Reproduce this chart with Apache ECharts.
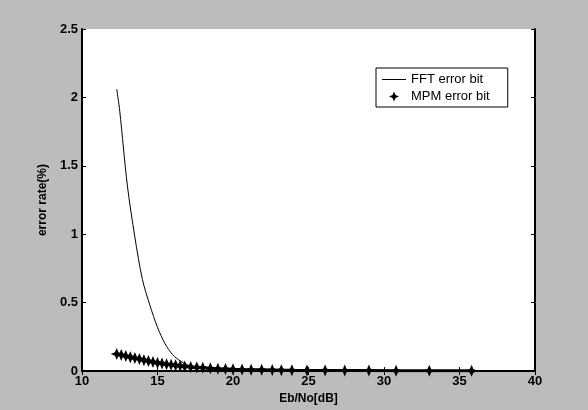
<!DOCTYPE html>
<html>
<head>
<meta charset="utf-8">
<script src="https://cdn.jsdelivr.net/npm/echarts@6/dist/echarts.min.js"></script>
<style>
  html, body { margin: 0; padding: 0; background: #bcbcbc; }
  #main { width: 588px; height: 410px; }
</style>
</head>
<body>
<div id="main"></div>
<script>
// FFT curve (Eb/No in dB, error rate in %)
const fftX = [12.3, 12.5, 13, 13.5, 14, 14.5, 15, 15.5, 16, 16.5, 17, 17.5, 18, 19, 20, 22, 24, 26, 28, 30, 32, 34, 36]
const fftY = [2.06, 1.9, 1.36, 0.98, 0.67, 0.48, 0.32, 0.2, 0.12, 0.075, 0.045, 0.03, 0.02, 0.01, 0.006, 0.004, 0.003, 0.002, 0.002, 0.001, 0.001, 0.001, 0.001]

// MPM markers
const mpmX = [12.3, 12.6, 12.9, 13.2, 13.5, 13.8, 14.1, 14.4, 14.7, 15.0, 15.3, 15.6, 15.9, 16.2, 16.5, 16.8,
    17.2, 17.6, 18.0, 18.5, 19.0, 19.5, 20.0, 20.6, 21.2, 21.9, 22.6, 23.2, 23.9, 24.9, 26.1, 27.4, 29.0, 30.8, 33.0, 35.8]
const mpmY = [0.125, 0.118, 0.11, 0.102, 0.095, 0.088, 0.08, 0.073, 0.066, 0.06, 0.055, 0.05, 0.046, 0.042, 0.038, 0.034,
    0.03, 0.027, 0.024, 0.02, 0.017, 0.015, 0.013, 0.011, 0.01, 0.009, 0.008, 0.007, 0.006, 0.005, 0.005, 0.004, 0.004, 0.003, 0.003, 0.002]

const star = 'path://M0,-10 L3,-3 L10,0 L3,3 L0,10 L-3,3 L-10,0 L-3,-3 Z'
// thin line for the legend, with tiny corner dots so the box stays 10 high
const lineIcon = 'path://M0,0 L0.01,0 L0.01,0.01 Z M0,4.6 L24,4.6 L24,5.4 L0,5.4 Z M0,10 L0.01,10 L0.01,9.99 Z'
const font = 'Liberation Sans'

const chart = echarts.init(document.getElementById('main'))

const tickFmt = v => String(v)
const labelStyle = { color: '#000', fontFamily: font, fontWeight: 'bold', fontSize: 13 }
const axisLine = { show: true, lineStyle: { color: '#000', width: 2 } }
const axisTick = { show: true, inside: true, length: 4, lineStyle: { color: '#000', width: 1 } }

let option = {
    backgroundColor: '#bcbcbc',
    animation: false,
    grid: {
        left: 82, right: 53, top: 29, bottom: 38,
        show: true, backgroundColor: '#fff', borderWidth: 0
    },
    legend: {
        left: 376, top: 68,
        orient: 'vertical',
        itemGap: 4,
        itemWidth: 24, itemHeight: 10,
        padding: [5, 18, 4, 6],
        backgroundColor: '#fff',
        borderColor: '#000', borderWidth: 1, borderRadius: 0,
        textStyle: { color: '#000', fontFamily: font, fontSize: 13 },
        data: [
            { name: 'FFT error bit', icon: lineIcon, itemStyle: { color: '#000' } },
            { name: 'MPM error bit', icon: star, itemStyle: { color: '#000' } }
        ]
    },
    xAxis: [
        {
            type: 'value', min: 10, max: 40, interval: 5,
            name: 'Eb/No[dB]', nameLocation: 'middle', nameGap: 17,
            nameTextStyle: { color: '#000', fontFamily: font, fontWeight: 'bold', fontSize: 12 },
            axisLine: axisLine, axisTick: axisTick,
            axisLabel: Object.assign({ margin: 4, formatter: tickFmt }, labelStyle),
            splitLine: { show: false }
        },
        {
            type: 'value', min: 10, max: 40, interval: 5, position: 'top',
            axisLine: axisLine, axisTick: axisTick,
            axisLabel: { show: false }, splitLine: { show: false }
        }
    ],
    yAxis: [
        {
            type: 'value', min: 0, max: 2.5, interval: 0.5,
            name: 'error rate(%)', nameLocation: 'middle', nameGap: 31,
            nameTextStyle: { color: '#000', fontFamily: font, fontWeight: 'bold', fontSize: 12 },
            axisLine: axisLine, axisTick: axisTick,
            axisLabel: Object.assign({ margin: 4, formatter: tickFmt }, labelStyle),
            splitLine: { show: false }
        },
        {
            type: 'value', min: 0, max: 2.5, interval: 0.5, position: 'right',
            axisLine: axisLine, axisTick: axisTick,
            axisLabel: { show: false }, splitLine: { show: false }
        }
    ],
    series: [
        {
            name: 'FFT error bit',
            type: 'line',
            data: fftX.map((x, i) => [x, fftY[i]]),
            symbol: 'none',
            smooth: 0.3,
            lineStyle: { color: '#000', width: 1 },
            itemStyle: { color: '#000' },
            z: 3
        },
        {
            name: 'MPM error bit',
            type: 'line',
            data: mpmX.map((x, i) => [x, mpmY[i]]),
            symbol: star,
            symbolSize: 12,
            showAllSymbol: true,
            lineStyle: { color: '#000', width: 3 },
            itemStyle: { color: '#000' },
            z: 4
        }
    ]
}

chart.setOption(option)
</script>
</body>
</html>
